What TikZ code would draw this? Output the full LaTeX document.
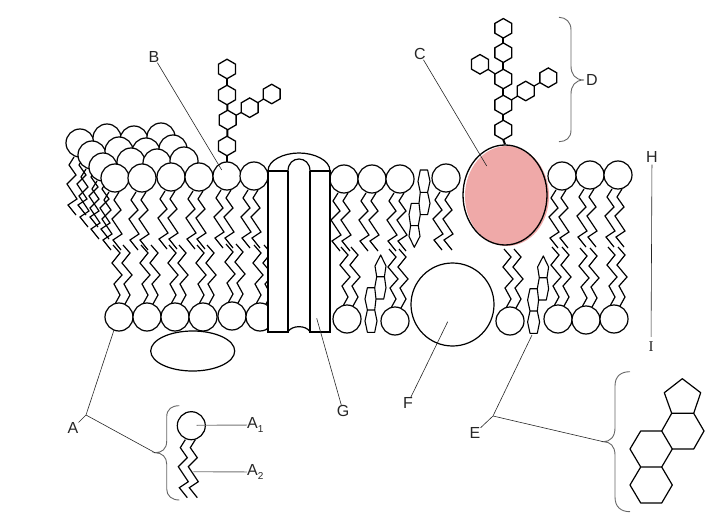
\documentclass[tikz,border=0pt]{standalone}
\usepackage{fontspec}
\setmainfont{Liberation Sans}
\newfontfamily\serifI{Liberation Serif}
\usetikzlibrary{shapes.geometric}
\definecolor{pinkprot}{HTML}{EFA9A8}
\tikzset{
  headc/.style={circle,draw,fill=white,line width=1.2pt,minimum size=28pt,inner sep=0pt,outer sep=0pt},
  tailline/.style={line width=1.2pt,line join=miter},
  hexa/.style={regular polygon,regular polygon sides=6,shape border rotate=30,draw,fill=white,line width=1.3pt,minimum size=19.5pt,inner sep=0pt,outer sep=0pt},
  sugarlink/.style={line width=2pt},
  sidelink/.style={line width=1.2pt},
  leader/.style={line width=0.6pt,black!85},
  grayleader/.style={line width=0.9pt,black!55},
  bracel/.style={line width=0.9pt,black!60},
  ster/.style={line width=1.1pt,fill=white,line join=round},
  bigster/.style={line width=1.2pt,line join=round},
  lab/.style={inner sep=0pt,font=\fontsize{16}{16}\selectfont,black!85},
  chan/.style={line width=1.8pt,line join=miter},
  chanarc/.style={line width=1.2pt}
}
\newcommand{\tailpair}[2]{%
  \draw[tailline,shift={(#1,#2)}] (-6,14)--(-11,22)--(-4,32)--(-13,41)--(-3,56)--(-12,62)--(-4,72);
  \draw[tailline,shift={(#1,#2)}] (4,14)--(-1,22)--(6,32)--(-3,41)--(7,56)--(-2,62)--(6,72);
}
\newcommand{\lowtailpair}[2]{%
  \draw[tailline,shift={(#1,#2)}] (-4,-13)--(1,-22)--(-5,-33)--(3,-42)--(-7,-54)--(1,-64)--(-6,-72);
  \draw[tailline,shift={(#1,#2)}] (6,-13)--(11,-22)--(5,-33)--(13,-42)--(3,-54)--(11,-64)--(4,-72);
}
\newcommand{\uplipid}[3]{\tailpair{#1}{#2}\node[headc] (#3) at (#1,#2) {};}
\newcommand{\lowlipid}[3]{\lowtailpair{#1}{#2}\node[headc] (#3) at (#1,#2) {};}
\newcommand{\steroidpath}{%
  (0,0)--(-5.7,11)--(-4,21.7)--(3.7,21.7)--(5.3,11)--cycle
  (-4,21.7)--(3.7,21.7)--(5.3,32.7)--(3,44)--(-4.7,44)--(-6,32.7)--cycle
  (-13.3,32.7)--(-6,32.7)--(-4.7,44)--(-6,55)--(-13.3,55)--(-15.7,44)--cycle
  (-13.3,55)--(-6,55)--(-3.7,66)--(-6,77.3)--(-13.3,77.3)--(-15.7,66)--cycle}
\begin{document}
\begin{tikzpicture}[x=1pt,y=-1pt]
\useasboundingbox (0,0) rectangle (720,524);
% back rows of heads, left side
\uplipid{80}{143}{ba}
\node[headc] (bb) at (107,138) {};
\node[headc] (bc) at (134,140) {};
\node[headc] (bd) at (161,137) {};
\uplipid{92}{155}{ca}
\node[headc] (cb) at (119,151) {};
\node[headc] (cc) at (146,152) {};
\node[headc] (cd) at (173,149) {};
\uplipid{103}{167}{da}
\node[headc] (db) at (131,162) {};
\node[headc] (dc) at (157,163) {};
\node[headc] (dd) at (184,161) {};
% upper leaflet
\uplipid{115}{178}{u1}
\uplipid{142}{178}{u2}
\uplipid{171}{177}{u3}
\uplipid{199}{177}{u4}
\uplipid{227}{176}{u5}
\uplipid{254}{176}{u6}
\uplipid{344}{179}{u7}
\uplipid{372}{179}{u8}
\uplipid{400}{179}{u9}
\uplipid{446}{178}{u10}
\uplipid{562}{176}{u11}
\uplipid{590}{175}{u12}
\uplipid{618}{175}{u13}
% lower leaflet
\lowlipid{119}{317}{l1}
\lowlipid{147}{317}{l2}
\lowlipid{175}{317}{l3}
\lowlipid{203}{317}{l4}
\lowlipid{232}{316}{l5}
\lowlipid{260}{317}{l6}
\lowlipid{347}{319}{l7}
\lowlipid{395}{321}{l8}
\lowlipid{510}{321}{l9}
\lowlipid{558}{319}{l10}
\lowlipid{586}{320}{l11}
\lowlipid{614}{319}{l12}
% steroids in membrane
\draw[ster,shift={(414.3,247.3)},xscale=-1,yscale=-1] \steroidpath;
\draw[ster,shift={(380.7,255)}] \steroidpath;
\draw[ster,shift={(543.3,256)}] \steroidpath;
% channel protein
\fill[white] (268,171) .. controls (268,160) and (284,153) .. (299,153) .. controls (314,153) and (330,160) .. (330,171) -- (330,331.7) -- (310,331.7) .. controls (306,325) and (292,325) .. (288,331.7) -- (268,331.7) -- cycle;
\draw[chanarc] (268,171) .. controls (268,160) and (284,153) .. (299,153) .. controls (314,153) and (330,160) .. (330,171);
\draw[chanarc] (288,171) .. controls (288,155) and (310,155) .. (310,171);
\draw[chan] (288,171) -- (268,171) -- (268,331.7) -- (288,331.7) -- (288,171);
\draw[chan] (310,171) -- (330,171) -- (330,331.7) -- (310,331.7) -- (310,171);
\draw[chanarc] (288,331.7) .. controls (292,325) and (306,325) .. (310,331.7);
% peripheral proteins
\node[ellipse,draw,fill=white,line width=1.2pt,minimum width=84pt,minimum height=40pt,inner sep=0pt] (oval) at (192.7,351) {};
\node[circle,draw,fill=white,line width=1.2pt,minimum size=83pt,inner sep=0pt] (bigF) at (452.5,304.5) {};
% glycoprotein
\fill[pinkprot] (507,196) ellipse [x radius=42,y radius=50];
\node[ellipse,draw,line width=1.3pt,minimum width=84pt,minimum height=100pt,inner sep=0pt] (prot) at (505,195) {};
% left sugar tree
\node[hexa] (s1) at (227,69) {};
\node[hexa] (s2) at (227,95) {};
\node[hexa] (s3) at (227.7,120) {};
\node[hexa] (s4) at (227,146) {};
\node[hexa] (s5) at (249.7,107.7) {};
\node[hexa] (s6) at (271.7,94) {};
\draw[sugarlink] (s1)--(s2); \draw[sugarlink] (s2)--(s3); \draw[sugarlink] (s3)--(s4);
\draw[sidelink] (s3)--(s5); \draw[sidelink] (s5)--(s6);
\draw[sugarlink] (s4.south) -- (u5.north);
% right sugar tree
\node[hexa] (t1) at (503.3,28.3) {};
\node[hexa] (t2) at (503.3,52.7) {};
\node[hexa] (t3) at (503.3,79) {};
\node[hexa] (t4) at (503.3,105) {};
\node[hexa] (t5) at (503.3,130) {};
\node[hexa] (t6) at (480,64.3) {};
\node[hexa] (t7) at (525.7,91) {};
\node[hexa] (t8) at (548.3,77.7) {};
\draw[sugarlink] (t1)--(t2); \draw[sugarlink] (t2)--(t3); \draw[sugarlink] (t3)--(t4); \draw[sugarlink] (t4)--(t5);
\draw[sidelink] (t3)--(t6); \draw[sidelink] (t4)--(t7); \draw[sidelink] (t7)--(t8);
\draw[sugarlink] (t5.south) -- (prot.north);
% big steroid
\draw[bigster] (682.3,378.7)--(700.7,392.7)--(693.7,413.3)--(671.7,413.3)--(664.3,392.7)--cycle
 (671.7,413.3)--(693.7,413.3)--(704,431)--(693.7,449)--(672.3,449)--(661.7,431)--cycle
 (661.7,431)--(672.3,449)--(661.7,467)--(640.7,467)--(630,449)--(640.7,431)--cycle
 (640.7,467)--(661.7,467)--(672.3,485)--(661.7,503)--(640.7,503)--(630,485)--cycle;
% inset lipid
\uplipid{191.3}{425.7}{inset}
% braces
\coordinate (tipD) at (584,80);
\coordinate (tipA) at (155,452.7);
\coordinate (tipE) at (603.3,441.7);
\draw[bracel] (559,17.3) .. controls (566,17.5) and (571,22) .. (571,30) -- (571,66) .. controls (571,74) and (575,80) .. (tipD) .. controls (575,80) and (571,86) .. (571,94) -- (571,130) .. controls (571,138) and (566,141.5) .. (559,141.7);
\draw[bracel] (179.3,405.7) .. controls (172,405.7) and (166.7,409) .. (166.7,417) -- (166.7,441) .. controls (166.7,449) and (162,452.7) .. (tipA) .. controls (162,452.7) and (166.7,457) .. (166.7,464) -- (166.7,489) .. controls (166.7,496) and (172,500) .. (179.3,500);
\draw[bracel] (630,371.7) .. controls (621,371.7) and (615,376) .. (615,386) -- (615,428) .. controls (615,437) and (610,441.7) .. (tipE) .. controls (610,441.7) and (615,446) .. (615,455) -- (615,497) .. controls (615,507) and (621,511.7) .. (630,511.7);
% labels
\node[lab] (labA) at (73,428) {A};
\node[lab,anchor=west] (labAone) at (247,425) {A\raisebox{-3.5pt}{\fontsize{10}{10}\selectfont 1}};
\node[lab,anchor=west] (labAtwo) at (247,472) {A\raisebox{-3.5pt}{\fontsize{10}{10}\selectfont 2}};
\node[lab] (labB) at (154,57) {B};
\node[lab] (labC) at (420,54) {C};
\node[lab] (labD) at (592,80) {D};
\node[lab] (labE) at (475,433) {E};
\node[lab] (labF) at (408,403) {F};
\node[lab] (labG) at (343,411) {G};
\node[lab] (labH) at (652,157) {H};
\node[lab,font=\serifI\fontsize{15}{15}\selectfont] (labI) at (651,347) {I};
% leaders
\coordinate (cornerA) at (86,415);
\coordinate (cornerE) at (493,416);
\coordinate (endA) at (114,330);
\coordinate (endB) at (221.7,170);
\coordinate (endC) at (486.7,166);
\coordinate (endE) at (532,335);
\coordinate (endF) at (447.7,321.7);
\coordinate (endG) at (316.7,318.3);
\coordinate (endA1) at (196.7,425.3);
\coordinate (endA2) at (193.3,471.7);
\draw[leader] (labA) -- (cornerA) -- (endA);
\draw[leader] (cornerA) -- (tipA);
\draw[leader] (labB) -- (endB);
\draw[leader] (labC) -- (endC);
\draw[leader] (labE) -- (cornerE) -- (endE);
\draw[leader] (cornerE) -- (tipE);
\draw[leader] (labF) -- (endF);
\draw[leader] (labG) -- (endG);
\draw[leader,shorten <=2pt,shorten >=5pt] (labH) -- (labI);
\draw[grayleader] (labAone) -- (endA1);
\draw[grayleader] (labAtwo) -- (endA2);
\end{tikzpicture}
\end{document}
